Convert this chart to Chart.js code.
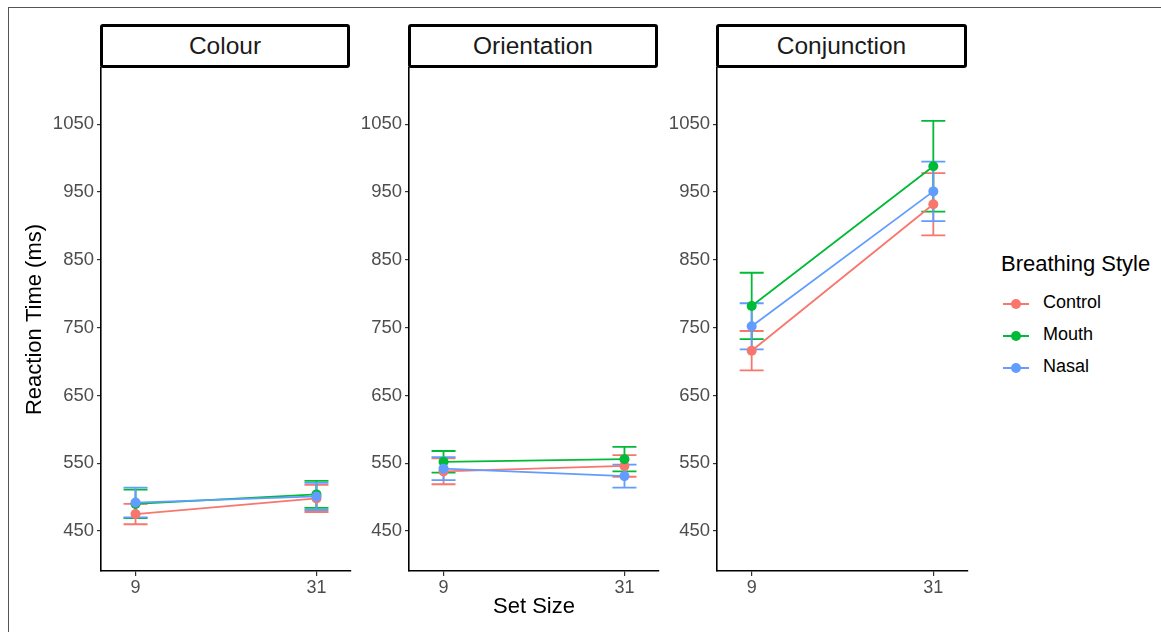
<!DOCTYPE html>
<html>
<head>
<meta charset="utf-8">
<script src="https://cdn.jsdelivr.net/npm/chart.js@4.4.1/dist/chart.umd.min.js"></script>
<style>
    body {margin: 0; background: #fff; font-family: "Liberation Sans", Arial, sans-serif;}
    #page {position: relative; width: 1161px; height: 632px; overflow: hidden;}
    #frame {position: absolute; left: 8px; top: 7px; width: 1300px; height: 800px; border: 1px solid #555;}
    canvas {position: absolute;}
    .strip {position: absolute; top: 24px; height: 44px; box-sizing: border-box; border: 3px solid #000;
        border-radius: 3px; font-size: 24.5px; line-height: 38px; text-align: center; color: #1a1a1a; background: #fff;}
    #legend {position: absolute; left: 1001px; top: 251px;}
    #legend .title {font-size: 22px; color: #000; height: 43px;}
    #legend .item {position: relative; height: 32px; font-size: 18px; color: #000;}
    #legend .key {position: absolute; left: 2px; top: 9px; width: 26px; height: 2px;}
    #legend .dot {position: absolute; left: 8px; top: -4px; width: 10px; height: 10px; border-radius: 50%;}
    #legend .lab {position: absolute; left: 42px; top: -2px;}
</style>
</head>
<body>
<div id="page">
    <div id="frame"></div>
    <div id="legend"></div>
</div>
<script>
    // Данные
    const setSizes = [9, 31]
    const panelNames = ['Colour', 'Orientation', 'Conjunction']
    const groups = ['Control', 'Mouth', 'Nasal']
    const groupColors = ['#F8766D', '#00BA38', '#619CFF']
    const yTicks = [450, 550, 650, 750, 850, 950, 1050]

    // среднее по панелям: [9, 31]
    const controlMean = [[475, 498], [538, 546], [716, 932]]
    const mouthMean = [[490, 504], [552, 556], [782, 988]]
    const nasalMean = [[492, 501], [542, 531], [752, 951]]
    // ошибка
    const controlErr = [[15, 20], [19, 16], [29, 46]]
    const mouthErr = [[21, 20], [16, 18], [49, 67]]
    const nasalErr = [[22, 20], [17, 17], [34, 44]]

    const means = [controlMean, mouthMean, nasalMean]
    const errs = [controlErr, mouthErr, nasalErr]

    Chart.defaults.font.family = '"Liberation Sans", Arial, sans-serif'

    const page = document.getElementById('page')

    // Позиции панелей
    const areaLeft = [101, 409, 717]
    const areaRight = [350, 658, 967]
    const areaTop = 68
    const areaBottom = 571
    const padTop = 16
    const xAxisH = 50

    const errorBars = {
        id: 'errorBars',
        beforeDatasetsDraw(chart) {
            const ctx = chart.ctx
            const xs = chart.scales.x
            const ys = chart.scales.y
            chart.data.datasets.forEach(ds => {
                ctx.save()
                ctx.strokeStyle = ds.borderColor
                ctx.lineWidth = 1.8
                ds.data.forEach((p, i) => {
                    const x = xs.getPixelForValue(p.x)
                    const yHi = ys.getPixelForValue(p.y + ds.err[i])
                    const yLo = ys.getPixelForValue(p.y - ds.err[i])
                    ctx.beginPath()
                    ctx.moveTo(x, yHi)
                    ctx.lineTo(x, yLo)
                    ctx.moveTo(x - 12, yHi)
                    ctx.lineTo(x + 12, yHi)
                    ctx.moveTo(x - 12, yLo)
                    ctx.lineTo(x + 12, yLo)
                    ctx.stroke()
                })
                ctx.restore()
            })
        }
    }

    panelNames.forEach((name, p) => {
        const yW = p === 0 ? areaLeft[0] - 20 : 55
        const canvas = document.createElement('canvas')
        const w = (areaRight[p] - areaLeft[p]) + yW + 6
        const h = padTop + (areaBottom - areaTop) + xAxisH
        canvas.width = w
        canvas.height = h
        canvas.style.left = (areaLeft[p] - yW) + 'px'
        canvas.style.top = (areaTop - padTop) + 'px'
        page.appendChild(canvas)

        const strip = document.createElement('div')
        strip.className = 'strip'
        strip.style.left = (areaLeft[p] - 1) + 'px'
        strip.style.width = (areaRight[p] - areaLeft[p] + 1) + 'px'
        strip.textContent = name
        page.appendChild(strip)

        const datasets = groups.map((g, k) => ({
            label: g,
            data: setSizes.map((s, i) => ({x: s, y: means[k][p][i]})),
            err: errs[k][p],
            borderColor: groupColors[k],
            backgroundColor: groupColors[k],
            borderWidth: 1.8,
            pointRadius: 5,
            pointBorderWidth: 0,
            showLine: true,
            order: 2 - k,
        }))

        new Chart(canvas.getContext('2d'), {
            type: 'scatter',
            data: {datasets},
            plugins: [errorBars],
            options: {
                responsive: false,
                animation: false,
                layout: {padding: {top: padTop, left: 0, right: 2, bottom: 0}},
                plugins: {legend: {display: false}, tooltip: {enabled: false}},
                scales: {
                    x: {
                        type: 'linear',
                        min: 4.8,
                        max: 35.2,
                        afterBuildTicks: scale => {
                            scale.ticks = setSizes.map(v => ({value: v}))
                        },
                        afterFit: scale => {
                            scale.height = xAxisH
                        },
                        grid: {drawOnChartArea: false, drawTicks: true, tickLength: 5, color: '#333', lineWidth: 1.2},
                        border: {display: true, color: '#000', width: 1.6},
                        ticks: {color: '#4D4D4D', font: {size: 18}, padding: 1, maxRotation: 0,
                            callback: v => String(v)},
                        title: {
                            display: p === 1,
                            text: 'Set Size',
                            color: '#000',
                            font: {size: 22},
                            padding: {top: 0, bottom: 1}
                        }
                    },
                    y: {
                        min: 391,
                        max: 1133,
                        afterBuildTicks: scale => {
                            scale.ticks = yTicks.map(v => ({value: v}))
                        },
                        afterFit: scale => {
                            scale.width = yW
                        },
                        grid: {drawOnChartArea: false, drawTicks: true, tickLength: 4, color: '#333', lineWidth: 1.2},
                        border: {display: true, color: '#000', width: 1.6},
                        ticks: {color: '#4D4D4D', font: {size: 18.5}, padding: 3,
                            callback: v => String(v)},
                        title: {
                            display: p === 0,
                            text: 'Reaction Time (ms)',
                            color: '#000',
                            font: {size: 22},
                            padding: {top: 2, bottom: 0}
                        }
                    }
                }
            }
        })
    })

    // Легенда
    const legend = document.getElementById('legend')
    legend.innerHTML = '<div class="title">Breathing Style</div>' + groups.map((g, k) =>
        `<div class="item"><div class="key" style="background:${groupColors[k]}">` +
        `<div class="dot" style="background:${groupColors[k]}"></div></div>` +
        `<div class="lab">${g}</div></div>`).join('')
</script>
</body>
</html>
